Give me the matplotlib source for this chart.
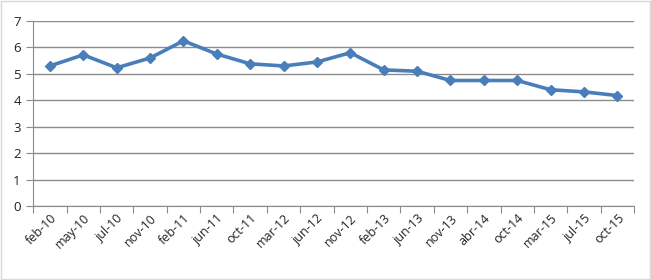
import numpy as np
import matplotlib.pyplot as plt
from matplotlib.patches import Rectangle

months = ['feb-10', 'may-10', 'jul-10', 'nov-10', 'feb-11', 'jun-11', 'oct-11',
          'mar-12', 'jun-12', 'nov-12', 'feb-13', 'jun-13', 'nov-13', 'abr-14',
          'oct-14', 'mar-15', 'jul-15', 'oct-15']
values = [5.30, 5.72, 5.23, 5.60, 6.25, 5.75, 5.38, 5.30, 5.45, 5.80,
          5.15, 5.10, 4.75, 4.75, 4.75, 4.40, 4.32, 4.18]

plt.rcParams['font.family'] = ['Open Sans', 'DejaVu Sans']

fig = plt.figure(figsize=(6.51, 2.80), dpi=100)
fig.patches.append(Rectangle((0.002, 0.004), 0.996, 0.992, transform=fig.transFigure,
                             fill=False, edgecolor='#d9d9d9', linewidth=1))
ax = fig.add_axes([0.051, 0.264, 0.923, 0.661])

x = np.arange(len(months))
ax.plot(x, values, color='#4a7ebb', linewidth=2.6, marker='D', markersize=5.5,
        zorder=3)

ax.set_xlim(-0.5, len(months) - 0.5)
ax.set_ylim(0, 7)
ax.set_yticks(range(0, 8))
ax.yaxis.grid(True, color='#8c8c8c', linewidth=1)
ax.set_axisbelow(True)

ax.set_xticks(np.arange(-0.5, len(months), 1.0))
ax.set_xticklabels([])
ax.set_xticks(x, minor=True)
ax.set_xticklabels(months, minor=True, rotation=45, ha='right',
                   rotation_mode='anchor', fontsize=9, color='#222222')
ax.tick_params(axis='x', which='minor', length=0, pad=4)
ax.tick_params(axis='x', which='major', length=5, color='#8c8c8c')
ax.tick_params(axis='y', length=5, color='#8c8c8c', labelsize=9.5,
               labelcolor='#222222', pad=4)

for s in ['top', 'right']:
    ax.spines[s].set_visible(False)
for s in ['left', 'bottom']:
    ax.spines[s].set_color('#8c8c8c')

fig.savefig('out.png', dpi=100)
